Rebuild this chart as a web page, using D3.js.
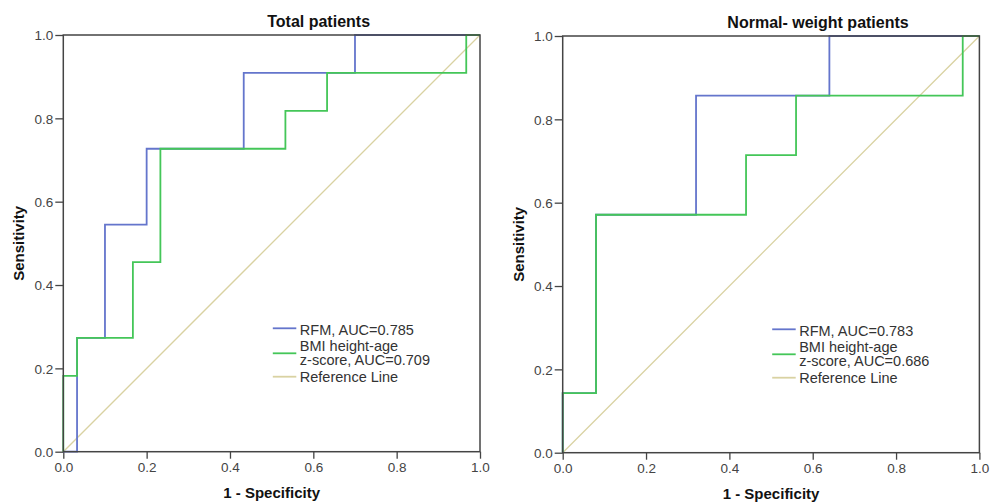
<!DOCTYPE html>
<html>
<head>
<meta charset="utf-8">
<script src="https://cdn.jsdelivr.net/npm/d3@7"></script>
<style>
    body { margin: 0; background: #fff; }
    svg { display: block; font-family: "Liberation Sans", Arial, sans-serif; }
</style>
</head>
<body>
<div class="container"></div>
<script>
// ROC corner points [1 - specificity, sensitivity], drawn as step-after curves

// total patients
const totalRfm = [[0, 0], [0.033, 0.273], [0.1, 0.545], [0.2, 0.727], [0.433, 0.909], [0.7, 1], [1, 1]]
const totalBmi = [[0, 0], [0, 0.182], [0.033, 0.273], [0.167, 0.455], [0.233, 0.727], [0.533, 0.818], [0.633, 0.909], [0.967, 1], [1, 1]]

// normal-weight patients
const normalRfm = [[0, 0], [0, 0.143], [0.08, 0.571], [0.32, 0.857], [0.64, 1], [1, 1]]
const normalBmi = [[0, 0], [0, 0.143], [0.08, 0.571], [0.44, 0.714], [0.56, 0.857], [0.96, 1], [1, 1]]

const referenceLine = [[0, 0], [1, 1]]

const panelTitles = ["Total patients", "Normal- weight patients"]
const legendTotal = [["RFM, AUC=0.785"], ["BMI height-age", "z-score, AUC=0.709"], ["Reference Line"]]
const legendNormal = [["RFM, AUC=0.783"], ["BMI height-age", "z-score, AUC=0.686"], ["Reference Line"]]

const tickValues = [0, 0.2, 0.4, 0.6, 0.8, 1.0]

const COLORS = { rfm: "#6475cc", bmi: "#44c658", ref: "#d9d2a2" }

const svg = d3.select("div.container").append("svg")
    .attr("width", 990)
    .attr("height", 502)

const panels = [
    { left: 63.3, top: 35, title: panelTitles[0], rfm: totalRfm, bmi: totalBmi, legend: legendTotal },
    { left: 562.7, top: 36, title: panelTitles[1], rfm: normalRfm, bmi: normalBmi, legend: legendNormal }
]

const size = 416.7

panels.forEach((p) => {
    const g = svg.append("g").attr("transform", `translate(${p.left},${p.top})`)

    const x = d3.scaleLinear().domain([0, 1]).range([0, size])
    const y = d3.scaleLinear().domain([0, 1]).range([size, 0])

    // axes (ticks outward, domain replaced by frame)
    const xAxis = g.append("g")
        .attr("transform", `translate(0,${size})`)
        .call(d3.axisBottom(x).tickValues(tickValues).tickFormat(d3.format(".1f")).tickSize(7).tickPadding(4))
    const yAxis = g.append("g")
        .call(d3.axisLeft(y).tickValues(tickValues).tickFormat(d3.format(".1f")).tickSize(8).tickPadding(2))

    ;[xAxis, yAxis].forEach((a) => {
        a.select(".domain").remove()
        a.selectAll(".tick line").attr("stroke", "#444").attr("stroke-width", 1.3)
        a.selectAll(".tick text")
            .attr("fill", "#444")
            .style("font-size", "13.5px")
            .style("font-family", "'Liberation Sans', Arial, sans-serif")
    })
    yAxis.selectAll(".tick text").attr("dy", "0.36em")

    const line = d3.line()
        .x((d) => x(d[0]))
        .y((d) => y(d[1]))

    // reference diagonal
    g.append("path")
        .datum(referenceLine)
        .attr("d", line)
        .attr("fill", "none")
        .attr("stroke", COLORS.ref)
        .attr("stroke-width", 1.3)

    const stepLine = d3.line()
        .x((d) => x(d[0]))
        .y((d) => y(d[1]))
        .curve(d3.curveStepAfter)

    g.append("path")
        .datum(p.rfm)
        .attr("d", stepLine)
        .attr("fill", "none")
        .attr("stroke", COLORS.rfm)
        .attr("stroke-width", 1.8)

    g.append("path")
        .datum(p.bmi)
        .attr("d", stepLine)
        .attr("fill", "none")
        .attr("stroke", COLORS.bmi)
        .attr("stroke-width", 1.8)

    // frame
    g.append("rect")
        .attr("width", size)
        .attr("height", size)
        .attr("fill", "none")
        .attr("stroke", "#444")
        .attr("stroke-width", 1.5)

    // titles and axis labels
    g.append("text")
        .attr("x", size / 2 + 47)
        .attr("y", -8.3)
        .attr("text-anchor", "middle")
        .style("font-size", "16px")
        .style("font-weight", "bold")
        .attr("fill", "#111")
        .text(p.title)

    g.append("text")
        .attr("x", size / 2)
        .attr("y", 463)
        .attr("text-anchor", "middle")
        .style("font-size", "15px")
        .style("font-weight", "bold")
        .attr("fill", "#111")
        .text("1 - Specificity")

    g.append("text")
        .attr("transform", `translate(-39,${size / 2}) rotate(-90)`)
        .attr("text-anchor", "middle")
        .style("font-size", "15px")
        .style("font-weight", "bold")
        .attr("fill", "#111")
        .text("Sensitivity")

    // legend
    const legend = g.append("g").attr("transform", "translate(209.5,0)")
    const sampleY = [293.3, 318.3, 341.7]
    const rowBase = [[299.5], [315.5], [331]]
    const sampleColors = [COLORS.rfm, COLORS.bmi, COLORS.ref]

    p.legend.forEach((lines, i) => {
        legend.append("line")
            .attr("x1", 0).attr("x2", 23.5)
            .attr("y1", sampleY[i]).attr("y2", sampleY[i])
            .attr("stroke", sampleColors[i])
            .attr("stroke-width", 1.8)
        legend.append("text")
            .attr("x", 27)
            .attr("y", i === 2 ? 347 : rowBase[i][0])
            .style("font-size", "14.5px")
            .attr("fill", "#333")
            .text(lines[0])
        if (lines.length > 1) {
            legend.append("text")
                .attr("x", 27)
                .attr("y", rowBase[i][0] + 14.5)
                .style("font-size", "14.5px")
                .attr("fill", "#333")
                .text(lines[1])
        }
    })
})
</script>
</body>
</html>
